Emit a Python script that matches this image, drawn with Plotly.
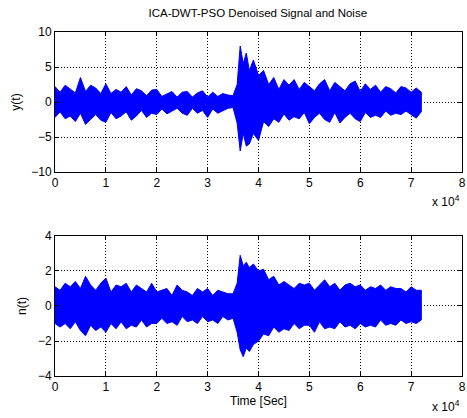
import plotly.graph_objects as go
from plotly.subplots import make_subplots

x_samples = [0, 1000, 2000, 3000, 4000, 5000, 6000, 7000, 8000, 9000,
             10000, 11000, 12000, 13000, 14000, 15000, 16000, 17000, 18000, 19000,
             20000, 21000, 22000, 23000, 24000, 25000, 26000, 27000, 28000, 29000,
             30000, 31000, 32000, 33000, 34000, 35000, 35800, 36400, 37000, 37600,
             38200, 39000, 40000, 41000, 42000, 43000, 44000, 45000, 46000, 47000,
             48000, 49000, 50000, 51000, 52000, 53000, 54000, 55000, 56000, 57000,
             58000, 59000, 60000, 61000, 62000, 63000, 64000, 65000, 66000, 67000,
             68000, 69000, 70000, 71000, 72000]

# Denoised signal y(t): upper / lower envelopes
y_upper = [2.2, 1.4, 2.4, 1.9, 1.3, 3.5, 1.5, 2.4, 2.0, 1.2,
           2.6, 1.2, 1.8, 1.4, 2.2, 1.0, 1.9, 1.6, 0.9, 1.7,
           1.8, 0.8, 1.1, 1.5, 0.7, 1.4, 1.5, 0.7, 1.3, 1.6,
           0.7, 1.4, 0.8, 1.2, 1.0, 0.9, 2.5, 8.0, 5.5, 7.0,
           4.5, 6.0, 3.8, 4.5, 2.5, 3.5, 1.8, 3.2, 2.4, 3.2,
           1.8, 2.8, 2.2, 1.6, 2.6, 3.2, 1.6, 2.8, 2.2, 1.6,
           2.6, 3.0, 1.5, 2.6, 1.8, 2.4, 1.4, 2.2, 1.9, 1.3,
           2.2, 2.0, 1.4, 2.0, 1.4]
y_lower = [-2.2, -1.4, -2.4, -2.0, -2.8, -1.6, -3.2, -2.5, -1.8, -2.6,
           -2.9, -1.5, -2.4, -2.0, -1.4, -2.6, -2.0, -1.2, -2.2, -1.6,
           -1.8, -1.0, -1.7, -1.3, -0.9, -1.6, -1.9, -0.9, -1.6, -1.2,
           -2.2, -1.0, -1.6, -1.3, -0.9, -0.8, -3.0, -7.0, -4.5, -6.3,
           -6.0, -4.5, -5.5, -2.8, -3.5, -2.4, -2.9, -1.7, -2.6, -2.1,
           -2.4, -1.5, -3.1, -2.2, -1.6, -2.5, -2.9, -1.5, -3.0, -2.2,
           -1.6, -2.4, -2.8, -1.5, -2.2, -1.9, -2.2, -1.3, -1.9, -1.6,
           -1.8, -1.3, -1.8, -2.3, -1.4]

# Noise n(t): upper / lower envelopes
n_upper = [1.1, 0.9, 1.3, 1.1, 1.4, 1.0, 1.7, 1.2, 0.9, 1.3,
           1.6, 0.8, 1.2, 1.1, 1.3, 0.8, 1.2, 1.0, 0.8, 1.3,
           0.8, 0.9, 1.0, 0.6, 1.2, 0.9, 0.8, 0.6, 1.0, 0.8,
           1.0, 0.6, 0.9, 0.8, 0.7, 0.7, 1.3, 2.9, 2.3, 2.5,
           2.2, 2.4, 2.0, 2.1, 1.5, 1.7, 1.2, 1.4, 1.2, 1.0,
           1.3, 1.2, 1.3, 0.9, 1.2, 1.5, 1.1, 1.3, 0.9, 1.2,
           1.3, 1.1, 1.2, 0.9, 1.1, 1.0, 1.2, 0.9, 1.1, 1.0,
           1.0, 0.8, 1.1, 0.9, 0.9]
n_lower = [-1.0, -1.2, -1.0, -1.3, -0.9, -1.4, -1.7, -1.1, -1.4, -1.2,
           -1.5, -1.0, -1.3, -0.9, -1.3, -1.1, -1.2, -0.8, -1.2, -1.0,
           -1.0, -0.7, -1.0, -0.9, -1.1, -0.6, -0.9, -0.8, -1.0, -0.6,
           -0.9, -0.8, -1.0, -0.6, -0.8, -0.7, -1.5, -2.5, -2.9, -2.4,
           -2.6, -2.2, -2.0, -1.6, -1.7, -1.2, -1.5, -1.3, -1.4, -1.0,
           -1.3, -1.1, -1.1, -1.5, -0.9, -1.3, -1.2, -1.3, -0.9, -1.2,
           -1.1, -1.3, -1.0, -1.2, -1.1, -1.2, -0.8, -1.1, -1.0, -1.1,
           -0.8, -1.0, -0.9, -1.0, -0.8]

x_tickvals = [0, 10000, 20000, 30000, 40000, 50000, 60000, 70000, 80000]
x_ticktext = ["0", "1", "2", "3", "4", "5", "6", "7", "8"]
y_ticks = [-10, -5, 0, 5, 10]
n_ticks = [-4, -2, 0, 2, 4]

BLUE = "#0000FF"
FONT = "Liberation Sans, Arial, sans-serif"

fig = make_subplots(rows=2, cols=1, vertical_spacing=0.186)

def band(xs, up, lo, row):
    fig.add_trace(go.Scatter(
        x=list(xs) + list(reversed(xs)),
        y=list(up) + list(reversed(lo)),
        fill="toself", fillcolor=BLUE, mode="lines",
        line=dict(color=BLUE, width=1), hoverinfo="skip", showlegend=False),
        row=row, col=1)

band(x_samples, y_upper, y_lower, 1)
band(x_samples, n_upper, n_lower, 2)

axis_common = dict(showline=True, linecolor="black", linewidth=1, mirror="ticks",
                   ticks="inside", ticklen=4, tickcolor="black", automargin=False,
                   ticklabeloverflow="allow",
                   showgrid=True, gridcolor="black", griddash="1px,2px", gridwidth=1,
                   zeroline=False, tickfont=dict(family=FONT, size=12, color="black"))

for r in (1, 2):
    fig.update_xaxes(range=[0, 80000], tickvals=x_tickvals, ticktext=x_ticktext,
                     row=r, col=1, **axis_common)
fig.update_yaxes(range=[-10, 10], tickvals=y_ticks, row=1, col=1,
                 title=dict(text="y(t)", font=dict(family=FONT, size=12, color="black"), standoff=8),
                 **axis_common)
fig.update_yaxes(range=[-4, 4], tickvals=n_ticks, row=2, col=1,
                 title=dict(text="n(t)", font=dict(family=FONT, size=12, color="black"), standoff=8),
                 **axis_common)
fig.update_xaxes(row=2, col=1,
                 title=dict(text="Time [Sec]", font=dict(family=FONT, size=12, color="black"), standoff=2))

fig.update_layout(
    width=467, height=418,
    margin=dict(l=55, r=5, t=32, b=42, autoexpand=False),
    paper_bgcolor="white", plot_bgcolor="white",
    title=dict(text="ICA-DWT-PSO Denoised Signal and Noise", x=0.552, xanchor="center",
               y=0.969, yanchor="middle", font=dict(family=FONT, size=11.5, color="black")),
    annotations=[
        dict(text="x 10<sup>4</sup>", xref="paper", yref="paper", x=1.0, y=0.48,
             xanchor="right", yanchor="bottom", showarrow=False,
             font=dict(family=FONT, size=12, color="black")),
        dict(text="x 10<sup>4</sup>", xref="paper", yref="paper", x=1.0, y=-0.116,
             xanchor="right", yanchor="bottom", showarrow=False,
             font=dict(family=FONT, size=12, color="black")),
    ],
)

# Remove the browser's default 8px body margin so the figure fills the window.
fig.write_html("out.html", config={"displayModeBar": False},
               post_script="document.body.style.margin='0';document.body.style.overflow='hidden';")
